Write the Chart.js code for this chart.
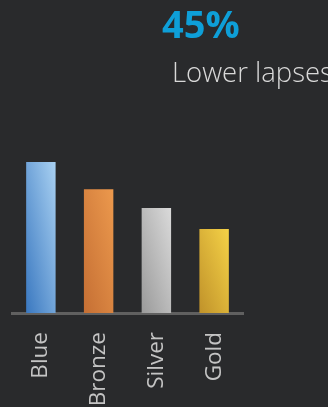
<!DOCTYPE html>
<html>
<head>
<meta charset="utf-8">
<script src="https://cdn.jsdelivr.net/npm/chart.js@4"></script>
<style>
  html, body { margin: 0; padding: 0; }
  body { width: 328px; height: 407px; background: #292a2c; overflow: hidden; position: relative; font-family: "Open Sans", sans-serif; }
  #wrap { position: absolute; left: 0; top: 0; width: 328px; height: 407px; }
  .big { position: absolute; left: 162px; top: 4px; font-size: 38px; line-height: 1; font-weight: 700; color: #0e9fd8; white-space: nowrap; }
  .sub { position: absolute; left: 172px; top: 58px; font-size: 27.5px; line-height: 1; font-weight: 300; color: #d8d8d8; white-space: nowrap; }
</style>
</head>
<body>
<div id="wrap"><canvas id="chart"></canvas></div>
<div class="big">45%</div>
<div class="sub">Lower lapses</div>
<script>
// Data
const tiers = ['Blue', 'Bronze', 'Silver', 'Gold'];
const tierValues = [100, 82, 69.5, 55.6];

// gradient stops per bar: bottom-left, top-right
const barColors = [
  ['#3a78c0', '#a9d1f2'],
  ['#c56f34', '#ec994d'],
  ['#9a9a9a', '#dadada'],
  ['#c0922a', '#f5d247']
];

function barGradient(ctx) {
  const chart = ctx.chart;
  if (!chart.chartArea || !chart.scales.x) return barColors[ctx.dataIndex][0];
  const i = ctx.dataIndex;
  const xs = chart.scales.x;
  const w = (xs.getPixelForValue(1) - xs.getPixelForValue(0)) * 0.51;
  const x = xs.getPixelForValue(i);
  const top = chart.scales.y.getPixelForValue(tierValues[i]);
  const base = chart.scales.y.getPixelForValue(0);
  const h = base - top;
  // half the ramp across the width, half along the height
  const a = 0.5 / w, b = 0.5 / h;
  const d = a * a + b * b;
  const g = chart.ctx.createLinearGradient(x - w / 2, base, x - w / 2 + a / d, base - b / d);
  g.addColorStop(0, barColors[i][0]);
  g.addColorStop(1, barColors[i][1]);
  return g;
}

const chart = new Chart(document.getElementById('chart'), {
  type: 'bar',
  data: {
    labels: tiers,
    datasets: [{
      data: tierValues,
      backgroundColor: barGradient,
      borderWidth: 0,
      barPercentage: 0.51,
      categoryPercentage: 1
    }]
  },
  options: {
    responsive: true,
    maintainAspectRatio: false,
    animation: false,
    layout: { padding: { top: 162, left: 12, right: 85, bottom: 0 } },
    plugins: {
      legend: { display: false },
      tooltip: { enabled: false }
    },
    scales: {
      x: {
        grid: { display: false, drawTicks: false },
        border: { display: true, color: '#606060', width: 3 },
        ticks: {
          color: '#c4c4c4',
          font: { family: 'Open Sans', size: 22.5 },
          minRotation: 90,
          maxRotation: 90,
          padding: 19
        },
        afterFit: function(scale) { scale.height = 94; }
      },
      y: {
        display: false,
        min: 0,
        max: 100
      }
    }
  }
});
</script>
</body>
</html>
